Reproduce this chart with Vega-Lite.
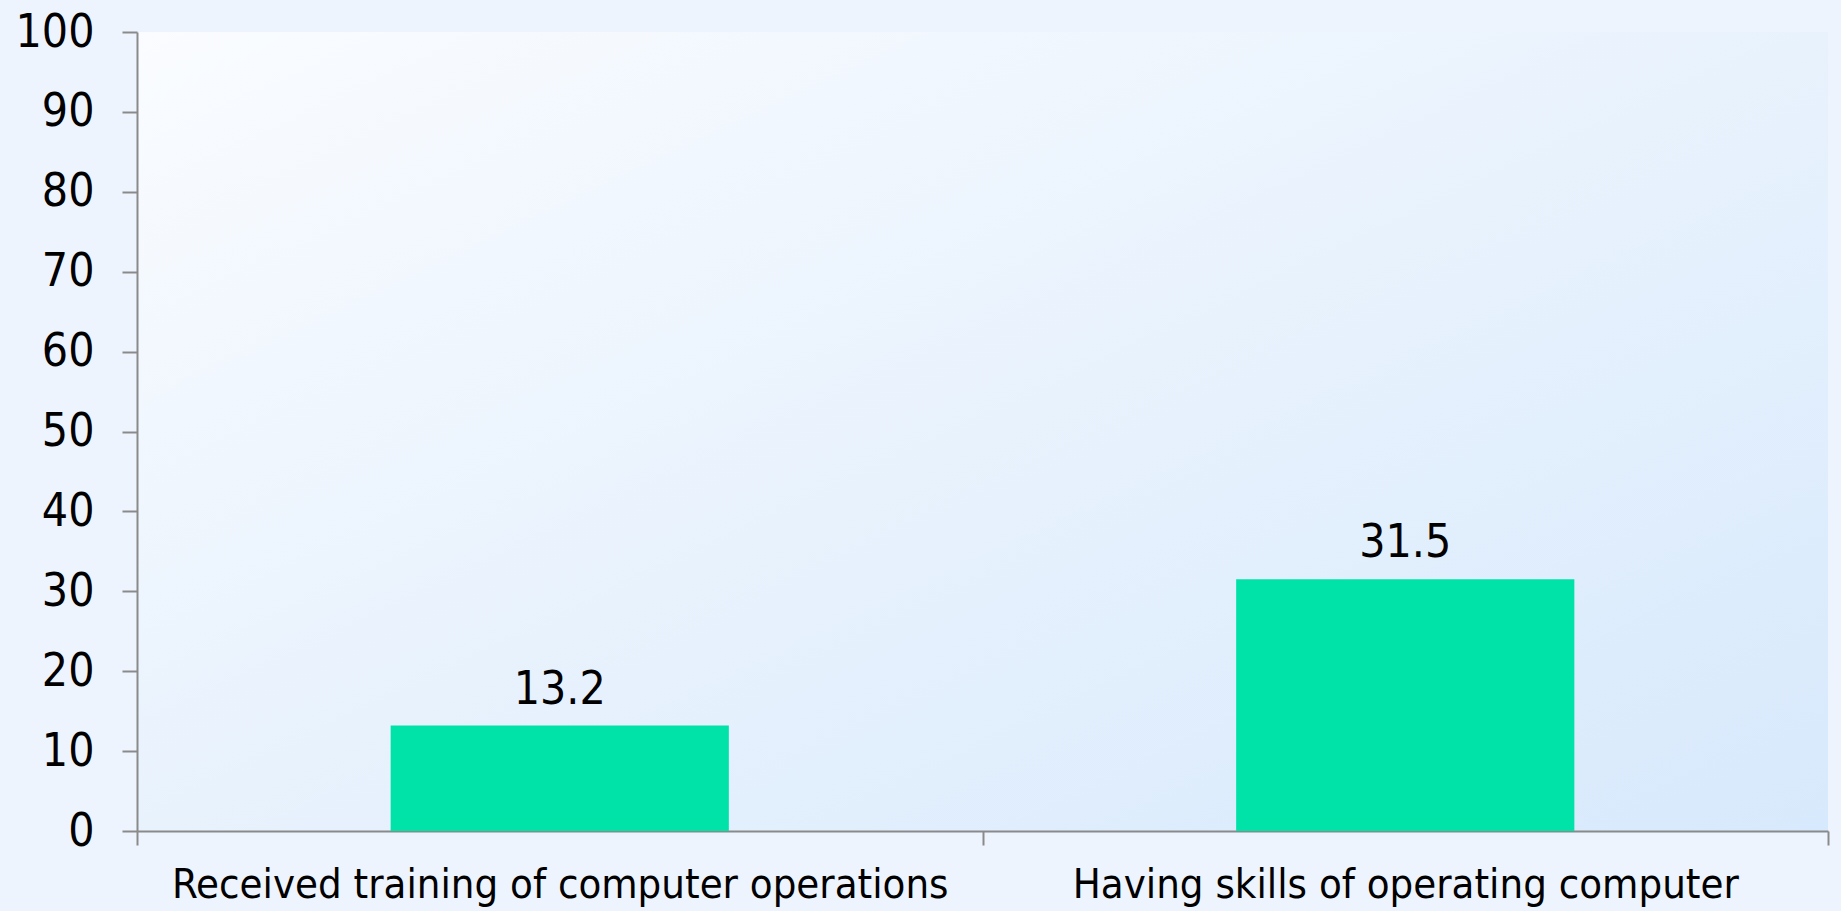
{
  "$schema": "https://vega.github.io/schema/vega-lite/v6.json",
  "width": 1691,
  "height": 799,
  "autosize": {"type": "none"},
  "padding": {"left": 137, "top": 32, "right": 13, "bottom": 80},
  "background": "#edf4fe",
  "config": {
    "font": "DejaVu Sans Condensed",
    "view": {
      "stroke": null,
      "fill": {
        "gradient": "linear",
        "x1": 0, "y1": 0, "x2": 1, "y2": 1,
        "stops": [
          {"offset": 0, "color": "#fafcff"},
          {"offset": 0.5, "color": "#e8f2fd"},
          {"offset": 1, "color": "#d7e9fc"}
        ]
      }
    },
    "axis": {
      "domainColor": "#8a8a8a",
      "domainWidth": 2,
      "tickColor": "#8a8a8a",
      "tickWidth": 2,
      "labelColor": "#000000",
      "labelFont": "DejaVu Sans Condensed",
      "grid": false,
      "title": null
    }
  },
  "data": {
    "values": [
      {"category": "Received training of computer operations", "value": 13.2},
      {"category": "Having skills of operating computer", "value": 31.5}
    ]
  },
  "encoding": {
    "x": {
      "field": "category",
      "type": "nominal",
      "sort": null,
      "scale": {"paddingInner": 0, "paddingOuter": 0},
      "axis": {"labelAngle": 0, "tickBand": "extent", "tickSize": 14, "labelPadding": 19, "labelLimit": 0, "labelFontSize": 41.5}
    },
    "y": {
      "field": "value",
      "type": "quantitative",
      "scale": {"domain": [0, 100], "nice": false},
      "axis": {"values": [0, 10, 20, 30, 40, 50, 60, 70, 80, 90, 100], "tickSize": 15, "labelPadding": 28, "labelFontSize": 46}
    }
  },
  "layer": [
    {"mark": {"type": "bar", "color": "#00e3a8", "width": {"band": 0.4}}},
    {
      "mark": {"type": "text", "fontSize": 46, "font": "DejaVu Sans Condensed", "color": "#000000", "baseline": "alphabetic", "dy": -22},
      "encoding": {"text": {"field": "value", "type": "quantitative", "format": ".1f"}}
    }
  ]
}
